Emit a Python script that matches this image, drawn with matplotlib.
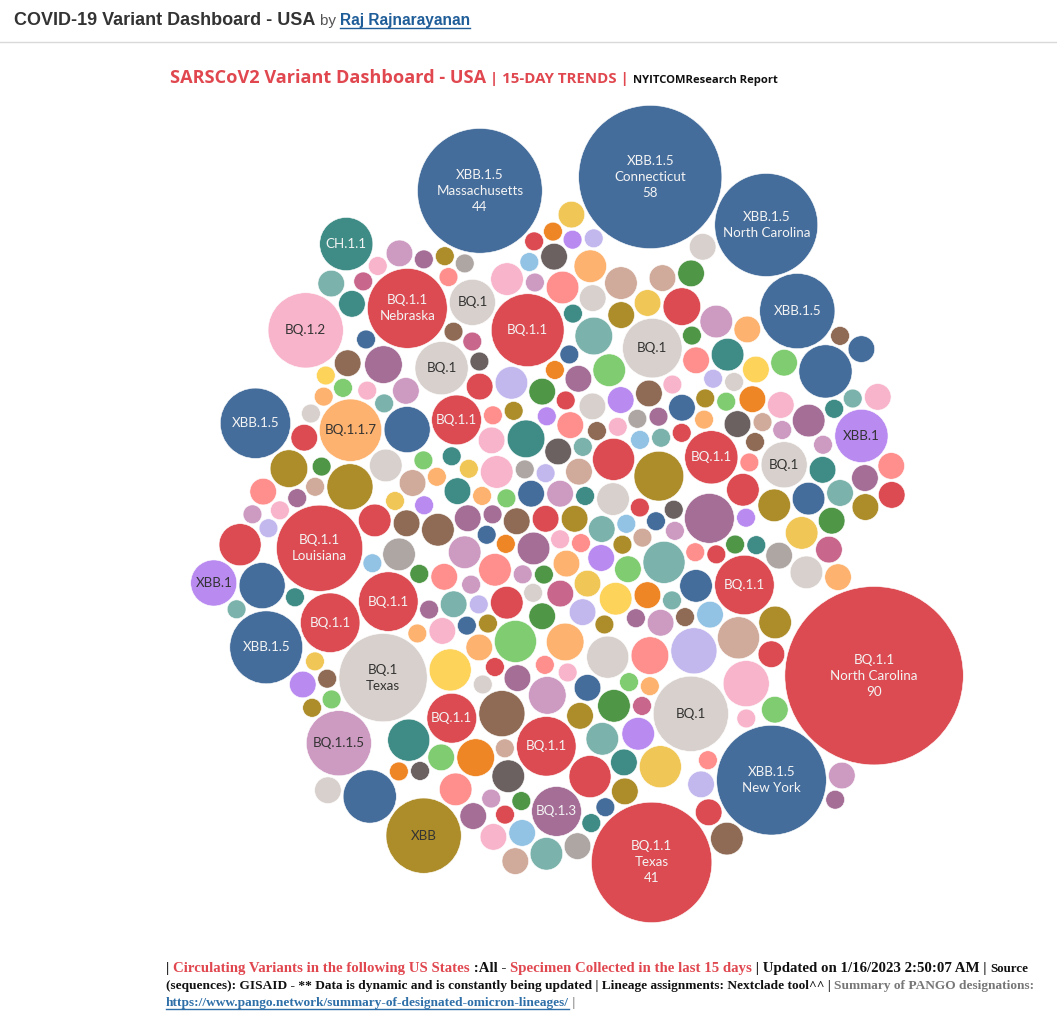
import numpy as np
import matplotlib.pyplot as plt
from matplotlib.patches import Circle
from math import sqrt

W, H = 1057, 1023

# named bubbles of the inner band, clockwise from the right
in_variant = ["BQ.1.1", "BQ.1", "BQ.1.1", "BQ.1.1", "BQ.1", "BQ.1.1", "BQ.1.1", "BQ.1.1",
              "BQ.1.1.7", "BQ.1.1", "BQ.1", "BQ.1.1", "BQ.1", "BQ.1.1", "BQ.1", "BQ.1.1", "BQ.1"]
in_state = ["", "", "", "", "Texas", "", "", "Louisiana",
            "", "", "", "Nebraska", "", "", "", "", ""]
in_count = [10, 16, 10, 7, 22, 10, 10, 21, 11, 7, 8, 18, 6, 15, 10, 8, 6]
in_gap = [5, 13, 15, 10, 7, 4, 1, 4, 9, 1, 5, 0, 8, 0, 15, 22, 9, 7]

# named bubbles of the rim, clockwise from the right
out_variant = ["BQ.1.1", "XBB.1.5", "BQ.1.1", "BQ.1.3", "XBB", "XBB.1.5", "BQ.1.1.5", "XBB.1.5",
               "XBB.1", "XBB.1.5", "BQ.1.2", "CH.1.1", "XBB.1.5", "XBB.1.5", "XBB.1.5", "XBB.1.5",
               "XBB.1.5", "XBB.1"]
out_state = ["North Carolina", "New York", "Texas", "", "", None, "", "",
             "", "", "", "", "Massachusetts", "Connecticut", "North Carolina", "",
             None, ""]
out_count = [90, 34, 41, 7, 16, 8, 12, 15, 6, 14, 16, 8, 44, 58, 30, 16, 8, 8]
out_gap = [4, 1, 8, 3, 10, 2, 0, 8, 3, 10, 5, 6, 5, 7, 3, 1, 2, 4, 6]
n_core = 60

# unnamed bubbles (sequences per state) for each lineage
xbb15_rest = [2, 1, 1, 3, 2, 1, 6, 1, 2, 3, 1, 6, 1, 2]
bq11_rest = [2, 5, 1, 3, 1, 2, 5, 1, 3, 2, 1, 4, 1, 3, 2, 1, 5, 2, 1, 2]
bq1_rest = [3, 1, 2, 5, 1, 3, 2, 1, 3, 2, 1, 2]
bq12_rest = [1, 3, 2, 1, 6, 1, 2, 1, 3, 1, 2, 1, 2, 1, 1, 2]
bq117_rest = [2, 1, 4, 1, 2, 1, 3, 1, 2, 1, 1, 2]
xbb1_rest = [2, 1, 3, 1, 2, 1, 2, 1]
ch11_rest = [1, 4, 2, 1, 2, 5, 1, 1, 3, 2, 1, 1, 2, 1]
bq115_rest = [2, 1, 3, 1, 2, 4, 1, 2, 1, 3, 1, 2, 1, 1, 2, 1]
bq13_rest = [3, 1, 2, 7, 1, 2, 1, 4, 2, 1, 3, 1, 2, 1, 1, 2]
xbb_rest = [2, 1, 7, 1, 3, 2, 1, 6, 1, 2, 1, 3, 2, 1, 4, 1, 2]
salmon_rest = [1, 3, 2, 1, 4, 1, 2, 1, 3, 2, 1, 1, 3, 2, 1, 2]
brown_rest = [2, 1, 3, 1, 6, 2, 1, 2, 1, 3, 1, 2, 1]
dgray_rest = [2, 1, 3, 1, 2, 1, 2]
lgray_rest = [1, 2, 3, 1, 2, 1]
lav_rest = [1, 2, 6, 1, 3, 1, 2, 1, 1]
dpink_rest = [2, 1, 1, 2, 1]
lteal_rest = [2, 1, 5, 1, 3, 2, 1, 4, 1, 2, 3, 1, 2, 1]
green_rest = [1, 2, 1, 3, 1, 2, 1, 2, 1, 1, 2]
lgreen_rest = [1, 2, 5, 1, 2, 1, 3, 1, 2, 1, 1, 2]
yellow_rest = [2, 1, 5, 1, 2, 3, 1, 2]
byellow_rest = [3, 5, 2, 1]
orange_rest = [1, 2, 4, 1, 2, 1, 1]
lblue_rest = [1, 2, 1, 1, 2, 1]
tan_rest = [2, 1, 5, 1, 2, 3, 1, 2, 1, 2]

colors = {
    "XBB.1.5": "#456d9b", "BQ.1.1": "#dc4b51", "BQ.1": "#d8d0cc", "BQ.1.2": "#f8b4ca",
    "BQ.1.1.7": "#fdb36f", "XBB.1": "#b98af0", "CH.1.1": "#3f8c86", "BQ.1.1.5": "#cd9ac2",
    "BQ.1.3": "#a56e97", "XBB": "#ad8d2a", "o1": "#fe8f8d", "o2": "#8f6b55", "o3": "#6b6160",
    "o4": "#aea6a3", "o5": "#c3b8ee", "o6": "#c9668c", "o7": "#7bb3ac", "o8": "#4f9746",
    "o9": "#80cc70", "o10": "#f0c757", "o11": "#fdd35a", "o12": "#ef8626", "o13": "#93c3e4",
    "o14": "#d0aa9a",
}
dark_text = {"BQ.1", "BQ.1.2", "BQ.1.1.7", "XBB.1", "BQ.1.1.5", "XBB"}

groups = [("XBB.1.5", xbb15_rest), ("BQ.1.1", bq11_rest), ("BQ.1", bq1_rest),
          ("BQ.1.2", bq12_rest), ("BQ.1.1.7", bq117_rest), ("XBB.1", xbb1_rest),
          ("CH.1.1", ch11_rest), ("BQ.1.1.5", bq115_rest), ("BQ.1.3", bq13_rest),
          ("XBB", xbb_rest), ("o1", salmon_rest), ("o2", brown_rest), ("o3", dgray_rest),
          ("o4", lgray_rest), ("o5", lav_rest), ("o6", dpink_rest), ("o7", lteal_rest),
          ("o8", green_rest), ("o9", lgreen_rest), ("o10", yellow_rest), ("o11", byellow_rest),
          ("o12", orange_rest), ("o13", lblue_rest), ("o14", tan_rest)]

# spread every lineage evenly through the pool of unnamed bubbles
pool = []
for gi, (v, vals) in enumerate(groups):
    for k, c in enumerate(vals):
        pool.append(((k + 0.5) / len(vals), gi, v, c))
pool.sort()
pool = [(v, None, c) for _, _, v, c in pool]

core = pool[:n_core]
rest = pool[n_core:]
n1 = round(len(rest) * sum(in_gap) / (sum(in_gap) + sum(out_gap)))


def build(smalls, named, gap):
    g = np.array(gap, dtype=float)
    g = np.round(np.cumsum(g) * len(smalls) / g.sum()).astype(int)
    seq = []
    prev = 0
    for k, item in enumerate(named):
        seq += smalls[prev:g[k]]
        seq.append(item)
        prev = g[k]
    return seq + smalls[prev:]


sweep1 = build(rest[:n1], list(zip(in_variant, in_state, in_count)), in_gap)
sweep2 = build(rest[n1:], list(zip(out_variant, out_state, out_count)), out_gap)

unit = 9.4
pad = 1.2
squash = 1.1   # cluster a little taller than wide


# front-chain circle packing for the core (same idea as d3.packSiblings)
def place(b, a, c):
    dx, dy = b[0] - a[0], b[1] - a[1]
    d2 = dx * dx + dy * dy
    if d2:
        a2 = (a[2] + c[2]) ** 2
        b2 = (b[2] + c[2]) ** 2
        if a2 > b2:
            x = (d2 + b2 - a2) / (2 * d2)
            y = sqrt(max(0, b2 / d2 - x * x))
            c[0] = b[0] - x * dx - y * dy
            c[1] = b[1] - x * dy + y * dx
        else:
            x = (d2 + a2 - b2) / (2 * d2)
            y = sqrt(max(0, a2 / d2 - x * x))
            c[0] = a[0] + x * dx - y * dy
            c[1] = a[1] + x * dy + y * dx
    else:
        c[0] = a[0] + c[2]
        c[1] = a[1]


def intersects(a, b):
    dr = a[2] + b[2] - 1e-6
    dx, dy = b[0] - a[0], b[1] - a[1]
    return dr > 0 and dr * dr > dx * dx + dy * dy


def pack(radii):
    C = [[0.0, 0.0, r] for r in radii]
    n = len(C)
    C[0][0] = -C[1][2]
    C[1][0] = C[0][2]
    place(C[1], C[0], C[2])
    nxt = {0: 1, 1: 2, 2: 0}
    prv = {1: 0, 2: 1, 0: 2}

    def score(i):
        p, q = C[i], C[nxt[i]]
        ab = p[2] + q[2]
        x = (p[0] * q[2] + q[0] * p[2]) / ab
        y = (p[1] * q[2] + q[1] * p[2]) / ab
        return x * x + y * y

    a, b = 0, 1
    i = 3
    while i < n:
        place(C[a], C[b], C[i])
        j, k = nxt[b], prv[a]
        sj, sk = C[b][2], C[a][2]
        hit = False
        while True:
            if sj <= sk:
                if intersects(C[j], C[i]):
                    b = j
                    nxt[a], prv[b] = b, a
                    hit = True
                    break
                sj += C[j][2]
                j = nxt[j]
            else:
                if intersects(C[k], C[i]):
                    a = k
                    nxt[a], prv[b] = b, a
                    hit = True
                    break
                sk += C[k][2]
                k = prv[k]
            if j == nxt[k]:
                break
        if hit:
            continue
        prv[i], nxt[i] = a, b
        nxt[a] = i
        prv[b] = i
        b = i
        aa = score(a)
        c = i
        while True:
            c = nxt[c]
            if c == b:
                break
            ca = score(c)
            if ca < aa:
                a, aa = c, ca
        b = nxt[a]
        i += 1
    return np.array(C)


def wrap(a):
    return (a + np.pi) % (2 * np.pi) - np.pi


def drop(pos, r, th):
    # free tangent spot nearest the middle, close to angle th (clockwise sweep)
    R = rad[:len(pos)]
    ang = np.arctan2(pos[:, 1], pos[:, 0])
    rho = np.hypot(pos[:, 0], pos[:, 1])
    sel = np.where((np.abs(wrap(ang - th)) < np.deg2rad(55)) | (rho < 60))[0]
    ia, ib = np.triu_indices(len(sel), 1)
    A, B = sel[ia], sel[ib]
    a_ = R[A] + r
    b_ = R[B] + r
    dv = pos[B] - pos[A]
    d = np.hypot(dv[:, 0], dv[:, 1])
    ok = (d < a_ + b_) & (d > np.abs(a_ - b_)) & (d > 0)
    A, a_, b_, dv, d = A[ok], a_[ok], b_[ok], dv[ok], d[ok]
    e = dv / d[:, None]
    nrm = np.stack([-e[:, 1], e[:, 0]], 1)
    xx = (d ** 2 + a_ ** 2 - b_ ** 2) / (2 * d)
    hh = np.sqrt(np.maximum(a_ ** 2 - xx ** 2, 0))
    base = pos[A] + xx[:, None] * e
    cand = np.vstack([base + hh[:, None] * nrm, base - hh[:, None] * nrm])
    dd = np.sqrt(((cand[:, None, :] - pos[None, :, :]) ** 2).sum(2)) - (R[None, :] + r)
    cand = cand[dd.min(1) > -1e-6]
    if len(cand):
        cr = np.hypot(cand[:, 0], cand[:, 1] / squash)
        dphi = wrap(np.arctan2(cand[:, 1], cand[:, 0]) - th)
        cost = cr * (1 + 6.0 * np.maximum(dphi, 0) + 3.0 * np.maximum(-dphi, 0))
        return cand[np.argmin(cost)]
    u = np.array([np.cos(th), np.sin(th)])
    tc = pos @ u
    perp2 = rho ** 2 - tc ** 2
    RR = (R + r) ** 2
    t = np.where(perp2 < RR, tc + np.sqrt(np.maximum(RR - perp2, 0)), 0).max()
    return t * u


order = core + sweep1 + sweep2
counts = np.array([c for _, _, c in order], dtype=float)
rad = unit * np.sqrt(counts) + pad

C = pack(list(rad[:n_core]))
pos = C[:, :2] - C[:, :2].mean(0)

start = n_core
for seq, power in ((sweep1, 0.8), (sweep2, 0.5)):
    cv = counts[start:start + len(seq)]
    wt = cv ** power
    theta = 2 * np.pi * (np.cumsum(wt) - wt / 2) / wt.sum()
    for i, th in enumerate(theta):
        pos = np.vstack([pos, drop(pos, rad[start + i], th)])
    start += len(seq)

rr = unit * np.sqrt(counts)
x0, x1 = (pos[:, 0] - rad).min(), (pos[:, 0] + rad).max()
y0, y1 = (pos[:, 1] - rad).min(), (pos[:, 1] + rad).max()
s = min(775 / (x1 - x0), 835 / (y1 - y0))
px = 577 + s * (pos[:, 0] - (x0 + x1) / 2)
py = 514 + s * (pos[:, 1] - (y0 + y1) / 2)
pr = s * rr

fig = plt.figure(figsize=(W / 100, H / 100), dpi=100)
ax = fig.add_axes([0, 0, 1, 1])
ax.set_xlim(0, W)
ax.set_ylim(H, 0)
ax.axis("off")

for (v, st, c), x, y, r in zip(order, px, py, pr):
    ax.add_patch(Circle((x, y), r, facecolor=colors[v], edgecolor="white", linewidth=0.4))
    if st is not None:
        lines = [v] + ([st] if st else []) + ([str(c)] if c >= 40 else [])
        tc = "#333333" if v in dark_text else "#f4f4f4"
        ax.text(x, y, "\n".join(lines), ha="center", va="center", fontsize=9.6,
                family="Lato", color=tc, linespacing=1.4)

renderer = fig.canvas.get_renderer()


def width_of(s, **kw):
    t1 = ax.text(0, 0, s + "x", **kw)
    t2 = ax.text(0, 0, "x", **kw)
    w = t1.get_window_extent(renderer).width - t2.get_window_extent(renderer).width
    t1.remove()
    t2.remove()
    return w


def text_run(x, y, parts):
    for s, kw in parts:
        kw = dict(kw)
        ul = kw.pop("underline", False)
        ax.text(x, y, s, ha="left", va="baseline", **kw)
        w = width_of(s, **kw)
        if ul:
            ax.plot([x, x + w], [y + 2.5, y + 2.5], color=kw["color"], lw=1)
        x += w


# header
sans = "Liberation Sans"
text_run(14, 25, [("COVID-19 Variant Dashboard - USA ", dict(fontsize=13, weight="bold", color="#333333", family=sans)),
                  ("by ", dict(fontsize=11, color="#555555", family=sans)),
                  ("Raj Rajnarayanan", dict(fontsize=11.2, weight="bold", color="#1f5d99", family=sans, underline=True))])
ax.plot([0, W], [42, 42], color="#d9d9d9", lw=1)

red = "#e0474f"
text_run(170, 83, [("SARSCoV2 Variant Dashboard - USA", dict(fontsize=13.1, weight="bold", color=red, family="Open Sans")),
                   (" | 15-DAY TRENDS | ", dict(fontsize=10.8, weight="bold", color=red, family="Open Sans")),
                   ("NYITCOMResearch Report", dict(fontsize=8.1, weight="bold", color="#111111", family="Open Sans"))])

serif = "Liberation Serif"
f1 = dict(fontsize=10.7, weight="bold", family=serif)
text_run(166, 972, [("| ", dict(color="#111111", **f1)),
                    ("Circulating Variants in the following US States", dict(color=red, **f1)),
                    (" :All - ", dict(color="#111111", **f1)),
                    ("Specimen Collected in the last 15 days", dict(color=red, **f1)),
                    (" | Updated on 1/16/2023 2:50:07 AM | ", dict(color="#111111", **f1)),
                    ("Source", dict(color="#111111", fontsize=9.4, weight="bold", family=serif))])
f2 = dict(fontsize=9.6, weight="bold", family=serif)
text_run(166, 989, [("(sequences): GISAID - ** Data is dynamic and is constantly being updated | Lineage assignments: Nextclade tool^^ | ", dict(color="#111111", **f2)),
                    ("Summary of PANGO designations:", dict(color="#777777", **f2))])
text_run(166, 1006, [("https://www.pango.network/summary-of-designated-omicron-lineages/", dict(color="#2e6fa8", underline=True, **f2)),
                     (" |", dict(color="#777777", **f2))])

fig.savefig("out.png", dpi=100)
